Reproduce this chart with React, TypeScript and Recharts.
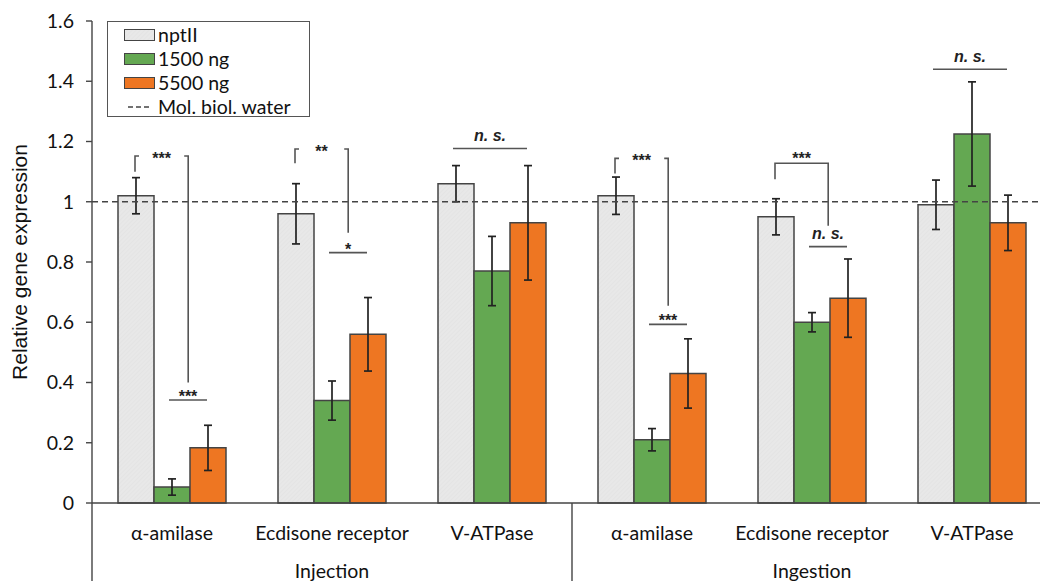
import React from "react"
import { BarChart, Bar, XAxis, YAxis, ErrorBar, ReferenceLine, Legend } from "recharts"

// categories (unique ids) and their labels
const categories = ["inj-amy", "inj-ecd", "inj-vat", "ing-amy", "ing-ecd", "ing-vat"]
const geneLabels = ["α-amilase", "Ecdisone receptor", "V-ATPase", "α-amilase", "Ecdisone receptor", "V-ATPase"]
const groupLabels = ["Injection", "Ingestion"]

// series values (relative gene expression) and standard errors
const nptII = [1.02, 0.96, 1.06, 1.02, 0.95, 0.99]
const nptIIErr = [0.06, 0.1, 0.06, 0.062, 0.06, 0.082]
const ng1500 = [0.053, 0.34, 0.77, 0.21, 0.6, 1.225]
const ng1500Err = [0.027, 0.065, 0.115, 0.037, 0.032, 0.173]
const ng5500 = [0.183, 0.56, 0.93, 0.43, 0.68, 0.93]
const ng5500Err = [0.075, 0.122, 0.19, 0.115, 0.13, 0.092]

const yTicks = [0, 0.2, 0.4, 0.6, 0.8, 1, 1.2, 1.4, 1.6]
const waterLevel = 1

// significance marks: bracket from nptII to the 1500/5500 pair, and lines over bar pairs
const brackets = [
  { cat: 0, yLeft: 1.1, yTop: 1.152, yRight: 0.4, label: "***", gap: true },
  { cat: 1, yLeft: 1.128, yTop: 1.175, yRight: 0.897, label: "**", gap: true },
  { cat: 3, yLeft: 1.094, yTop: 1.144, yRight: 0.655, label: "***", gap: true },
  { cat: 4, yLeft: 1.075, yTop: 1.128, yRight: 0.92, label: "***", gap: false },
]
const pairLines = [
  { cat: 0, from: 1, to: 2, y: 0.342, label: "***" },
  { cat: 1, from: 1, to: 2, y: 0.831, label: "*" },
  { cat: 2, from: 0, to: 2, y: 1.177, label: "n. s." },
  { cat: 3, from: 1, to: 2, y: 0.593, label: "***" },
  { cat: 4, from: 1, to: 2, y: 0.851, label: "n. s." },
  { cat: 5, from: 0, to: 2, y: 1.44, label: "n. s." },
]

const rows = categories.map((id, i) => ({
  id,
  nptII: nptII[i],
  nptIIErr: nptIIErr[i],
  ng1500: ng1500[i],
  ng1500Err: ng1500Err[i],
  ng5500: ng5500[i],
  ng5500Err: ng5500Err[i],
}))

const GREEN = "#64a852"
const ORANGE = "#ee7622"
const FONT = "Lato, 'Open Sans', sans-serif"
const MARK_FONT = "'Liberation Sans', Arial, sans-serif"

const CHART_W = 1052
const CHART_H = 581
const MARGIN = { top: 21, right: 0, left: 0, bottom: 0 }
const Y_AXIS_W = 92
const X_AXIS_H = 78
const BAR_SIZE = 36
const Y_MAX = 1.6

const PLOT_LEFT = MARGIN.left + Y_AXIS_W
const PLOT_TOP = MARGIN.top
const PLOT_W = CHART_W - PLOT_LEFT - MARGIN.right
const PLOT_H = CHART_H - MARGIN.top - MARGIN.bottom - X_AXIS_H
const BAND = PLOT_W / categories.length

const px = (cat: number, bar: number) =>
  PLOT_LEFT + BAND * cat + (BAND - BAR_SIZE * 3) / 2 + BAR_SIZE * (bar + 0.5)
const py = (v: number) => PLOT_TOP + PLOT_H * (1 - v / Y_MAX)

function CategoryTick(props: any) {
  const { x, y, payload } = props
  const i = categories.indexOf(payload.value)
  return (
    <g>
      <text x={x} y={y + 29} textAnchor="middle" dominantBaseline="central" fontSize={19.5} fontFamily={FONT} fill="#111">
        {geneLabels[i]}
      </text>
      {i % 3 === 1 && (
        <text x={x} y={y + 67} textAnchor="middle" dominantBaseline="central" fontSize={19.5} fontFamily={FONT} fill="#111">
          {groupLabels[Math.floor(i / 3)]}
        </text>
      )}
      {i % 3 === 0 && <line x1={x - BAND / 2} x2={x - BAND / 2} y1={y} y2={y + X_AXIS_H} stroke="#444" strokeWidth={1.4} />}
      {i === categories.length - 1 && (
        <line x1={x + BAND / 2} x2={x + BAND / 2} y1={y} y2={y + X_AXIS_H} stroke="#444" strokeWidth={1.4} />
      )}
    </g>
  )
}

function Swatch({ fill }: { fill: string }) {
  return (
    <svg width={31} height={12} style={{ display: "block" }}>
      <rect x={0.5} y={0.5} width={30} height={11} fill={fill} stroke="#444" strokeWidth={1} />
    </svg>
  )
}

function LegendBox() {
  const items = [
    { name: "nptII", fill: "url(#hatch)" },
    { name: "1500 ng", fill: GREEN },
    { name: "5500 ng", fill: ORANGE },
  ]
  return (
    <div
      style={{
        width: 203,
        height: 96,
        boxSizing: "border-box",
        border: "1px solid #555",
        background: "#fff",
        position: "relative",
        fontFamily: FONT,
        fontSize: 19.5,
        color: "#111",
      }}
    >
      {items.map((it, k) => (
        <div key={it.name} style={{ position: "absolute", left: 16, top: 1 + k * 24, height: 24, display: "flex", alignItems: "center" }}>
          <Swatch fill={it.fill} />
          <span style={{ marginLeft: 3, lineHeight: "24px" }}>{it.name}</span>
        </div>
      ))}
      <div style={{ position: "absolute", left: 16, top: 73, height: 24, display: "flex", alignItems: "center" }}>
        <svg width={31} height={12} style={{ display: "block" }}>
          <line x1={4} x2={28} y1={6} y2={6} stroke="#444" strokeWidth={1.3} strokeDasharray="5 3" />
        </svg>
        <span style={{ marginLeft: 3, lineHeight: "24px" }}>Mol. biol. water</span>
      </div>
    </div>
  )
}

function Annotations() {
  const stroke = "#555"
  return (
    <svg width={CHART_W} height={CHART_H} style={{ position: "absolute", left: 0, top: 0, pointerEvents: "none" }}>
      {brackets.map((b, k) => {
        const xl = px(b.cat, 0) - 1
        const xr = px(b.cat, 1.45)
        const yl = py(b.yLeft)
        const yt = py(b.yTop)
        const yr = py(b.yRight)
        const d = b.gap
          ? `M${xl},${yl} V${yt} H${xl + 4} M${xr - 4},${yt} H${xr} V${yr}`
          : `M${xl},${yl} V${yt} H${xr} V${yr}`
        return (
          <g key={"b" + k}>
            <path d={d} fill="none" stroke={stroke} strokeWidth={1.6} />
            <text x={(xl + xr) / 2} y={b.gap ? yt + 8 : yt + 1} textAnchor="middle" fontFamily={MARK_FONT} fontSize={16} fontWeight={700} fill="#222">
              {b.label}
            </text>
          </g>
        )
      })}
      {pairLines.map((p, k) => {
        const x1 = px(p.cat, p.from) - 3
        const x2 = px(p.cat, p.to) - 1
        const y = py(p.y)
        const ns = p.label === "n. s."
        return (
          <g key={"p" + k}>
            <line x1={x1} x2={x2} y1={y} y2={y} stroke={stroke} strokeWidth={1.6} />
            <text
              x={(x1 + x2) / 2}
              y={ns ? y - 7.5 : y + 2}
              textAnchor="middle"
              fontFamily={MARK_FONT}
              fontSize={16}
              fontWeight={700}
              fontStyle={ns ? "italic" : "normal"}
              fill="#222"
            >
              {p.label}
            </text>
          </g>
        )
      })}
    </svg>
  )
}

export default function App() {
  return (
    <div style={{ position: "absolute", left: 0, top: 0, width: 1040, height: 581, overflow: "hidden", background: "#fff" }}>
      <svg width={0} height={0} style={{ position: "absolute" }}>
        <defs>
          <pattern id="hatch" width={3} height={3} patternUnits="userSpaceOnUse" patternTransform="rotate(45)">
            <rect width={3} height={3} fill="#e8e8e8" />
            <line x1={0} y1={0} x2={0} y2={3} stroke="#e0e0e0" strokeWidth={1} />
          </pattern>
        </defs>
      </svg>
      <div style={{ position: "relative", width: CHART_W, height: CHART_H }}>
        <BarChart width={CHART_W} height={CHART_H} data={rows} margin={MARGIN} barGap={0} barSize={BAR_SIZE}>
          <XAxis
            dataKey="id"
            interval={0}
            height={X_AXIS_H}
            tickLine={false}
            tickSize={0}
            tickMargin={0}
            axisLine={{ stroke: "#444", strokeWidth: 1.4 }}
            tick={<CategoryTick />}
          />
          <YAxis
            width={Y_AXIS_W}
            domain={[0, Y_MAX]}
            ticks={yTicks}
            interval={0}
            tickSize={6}
            tickMargin={12}
            axisLine={{ stroke: "#444", strokeWidth: 1.4 }}
            tickLine={{ stroke: "#444", strokeWidth: 1.4 }}
            tick={{ fontSize: 19.5, fontFamily: FONT, fill: "#111" }}
            label={{
              content: (lp: any) => {
                const vb = lp.viewBox || { x: 0, y: PLOT_TOP, height: PLOT_H }
                const cx = vb.x + 19
                const cy = vb.y + vb.height / 2
                return (
                  <text
                    x={cx}
                    y={cy}
                    transform={`rotate(-90 ${cx} ${cy})`}
                    textAnchor="middle"
                    dominantBaseline="central"
                    fontSize={21}
                    fontFamily={MARK_FONT}
                    fill="#111"
                  >
                    Relative gene expression
                  </text>
                )
              },
            }}
          />
          <Legend
            layout="vertical"
            align="center"
            verticalAlign="middle"
            wrapperStyle={{ left: 107, top: 21, width: 203, height: 96 }}
            content={() => <LegendBox />}
          />
          <Bar dataKey="nptII" name="nptII" fill="url(#hatch)" stroke="#444" strokeWidth={1.5} isAnimationActive={false}>
            <ErrorBar dataKey="nptIIErr" width={4} stroke="#222" strokeWidth={1.7} isAnimationActive={false} />
          </Bar>
          <Bar dataKey="ng1500" name="1500 ng" fill={GREEN} stroke="#444" strokeWidth={1.5} isAnimationActive={false}>
            <ErrorBar dataKey="ng1500Err" width={4} stroke="#222" strokeWidth={1.7} isAnimationActive={false} />
          </Bar>
          <Bar dataKey="ng5500" name="5500 ng" fill={ORANGE} stroke="#444" strokeWidth={1.5} isAnimationActive={false}>
            <ErrorBar dataKey="ng5500Err" width={4} stroke="#222" strokeWidth={1.7} isAnimationActive={false} />
          </Bar>
          <ReferenceLine y={waterLevel} stroke="#444" strokeWidth={1.5} strokeDasharray="6 4" />
        </BarChart>
        <Annotations />
      </div>
    </div>
  )
}
